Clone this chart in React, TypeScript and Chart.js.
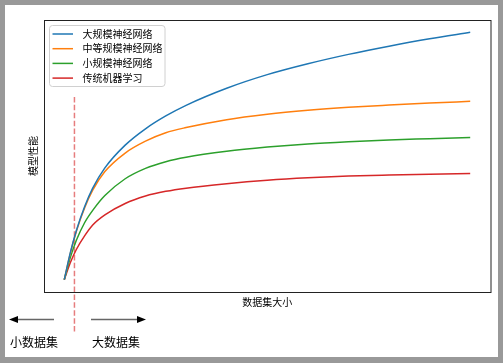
import React, { useEffect, useRef } from 'react';
import { Chart, registerables } from 'chart.js';

Chart.register(...registerables);

// ---- data ----
const xValues = [0, 1.5, 3, 5, 7, 10, 15, 20, 25, 30, 40, 50, 60, 70, 80, 90, 100];
const largeNN = [0, 0.11, 0.2, 0.295, 0.37, 0.452, 0.544, 0.61, 0.662, 0.705, 0.774, 0.829, 0.873, 0.911, 0.944, 0.974, 1.0];
const mediumNN = [0, 0.107, 0.197, 0.29, 0.362, 0.437, 0.512, 0.56, 0.594, 0.615, 0.647, 0.669, 0.685, 0.697, 0.706, 0.714, 0.721];
const smallNN = [0, 0.09, 0.16, 0.23, 0.28, 0.34, 0.408, 0.45, 0.477, 0.495, 0.519, 0.536, 0.549, 0.558, 0.565, 0.57, 0.575];
const traditionalML = [0, 0.069, 0.123, 0.177, 0.221, 0.262, 0.308, 0.338, 0.357, 0.37, 0.388, 0.402, 0.412, 0.419, 0.423, 0.426, 0.429];

const seriesNames = ['大规模神经网络', '中等规模神经网络', '小规模神经网络', '传统机器学习'];
const seriesColors = ['#1f77b4', '#ff7f0e', '#2ca02c', '#d62728'];
const seriesValues = [largeNN, mediumNN, smallNN, traditionalML];

const thresholdX = 2.5;
const thresholdYRange = [-0.21, 0.74];

const xAxisLabel = '数据集大小';
const yAxisLabel = '模型性能';
const leftNote = '小数据集';
const rightNote = '大数据集';

const FONT = '"Noto Sans CJK SC", "Noto Sans", sans-serif';

const decorPlugin = {
  id: 'decor',
  afterDatasetsDraw(chart: any) {
    const ctx = chart.ctx as CanvasRenderingContext2D;
    const a = chart.chartArea;
    ctx.save();

    // axes frame
    ctx.strokeStyle = '#222';
    ctx.lineWidth = 1;
    ctx.strokeRect(a.left + 0.5, a.top + 0.5, a.right - a.left, a.bottom - a.top);

    // axis labels
    ctx.fillStyle = '#000';
    ctx.font = `10px ${FONT}`;
    ctx.textAlign = 'center';
    ctx.textBaseline = 'middle';
    ctx.fillText(xAxisLabel, (a.left + a.right) / 2, a.bottom + 10);
    ctx.save();
    ctx.translate(28, (a.top + a.bottom) / 2);
    ctx.rotate(-Math.PI / 2);
    ctx.fillText(yAxisLabel, 0, 0);
    ctx.restore();

    // legend
    const lx = 44.5, ly = 20.5, lw = 115.5, lh = 61;
    const r = 3;
    ctx.beginPath();
    ctx.moveTo(lx + r, ly);
    ctx.lineTo(lx + lw - r, ly);
    ctx.arcTo(lx + lw, ly, lx + lw, ly + r, r);
    ctx.lineTo(lx + lw, ly + lh - r);
    ctx.arcTo(lx + lw, ly + lh, lx + lw - r, ly + lh, r);
    ctx.lineTo(lx + r, ly + lh);
    ctx.arcTo(lx, ly + lh, lx, ly + lh - r, r);
    ctx.lineTo(lx, ly + r);
    ctx.arcTo(lx, ly, lx + r, ly, r);
    ctx.closePath();
    ctx.fillStyle = 'rgba(255,255,255,0.85)';
    ctx.fill();
    ctx.strokeStyle = '#d0d0d0';
    ctx.lineWidth = 1;
    ctx.stroke();

    ctx.textAlign = 'left';
    ctx.font = `10px ${FONT}`;
    seriesNames.forEach((name, i) => {
      const y = 29 + i * 14.7;
      ctx.strokeStyle = seriesColors[i];
      ctx.lineWidth = 1.5;
      ctx.beginPath();
      ctx.moveTo(47.5, y);
      ctx.lineTo(68, y);
      ctx.stroke();
      ctx.fillStyle = '#000';
      ctx.fillText(name, 77.5, y);
    });

    // bottom arrows
    const ay = 314.5;
    const drawArrow = (x0: number, x1: number) => {
      const dir = Math.sign(x1 - x0);
      const headLen = 9;
      ctx.strokeStyle = '#666';
      ctx.lineWidth = 1.5;
      ctx.beginPath();
      ctx.moveTo(x0, ay);
      ctx.lineTo(x1 - dir * headLen, ay);
      ctx.stroke();
      ctx.fillStyle = '#000';
      ctx.beginPath();
      ctx.moveTo(x1, ay);
      ctx.lineTo(x1 - dir * headLen, ay - 3.5);
      ctx.lineTo(x1 - dir * headLen, ay + 3.5);
      ctx.closePath();
      ctx.fill();
    };
    drawArrow(49, 4);
    drawArrow(86, 141);

    ctx.fillStyle = '#000';
    ctx.font = `12px ${FONT}`;
    ctx.textAlign = 'left';
    ctx.textBaseline = 'middle';
    ctx.fillText(leftNote, 5, 337.5);
    ctx.fillText(rightNote, 87, 337.5);

    ctx.restore();
  },
};

export default function App() {
  const canvasRef = useRef<HTMLCanvasElement | null>(null);

  useEffect(() => {
    document.body.style.margin = '0';
    const canvas = canvasRef.current;
    if (!canvas) return;

    const datasets: any[] = seriesValues.map((vals, i) => ({
      label: seriesNames[i],
      data: xValues.map((x, j) => ({ x, y: vals[j] })),
      borderColor: seriesColors[i],
      backgroundColor: seriesColors[i],
      borderWidth: 1.5,
      pointRadius: 0,
      cubicInterpolationMode: 'monotone',
      fill: false,
    }));
    datasets.push({
      label: 'threshold',
      data: thresholdYRange.map((y) => ({ x: thresholdX, y })),
      borderColor: 'rgba(214,39,40,0.6)',
      borderWidth: 1.5,
      borderDash: [5.5, 2.4],
      pointRadius: 0,
      tension: 0,
      clip: false,
      fill: false,
    });

    const chart = new Chart(canvas, {
      type: 'line',
      data: { datasets },
      options: {
        responsive: false,
        animation: false,
        devicePixelRatio: 1,
        layout: { padding: { left: 39, right: 7.5, top: 15, bottom: 65 } },
        plugins: {
          legend: { display: false },
          tooltip: { enabled: false },
        },
        scales: {
          x: { type: 'linear', min: -5, max: 105, display: false },
          y: { type: 'linear', min: -0.05, max: 1.05, display: false },
        },
      },
      plugins: [decorPlugin],
    });

    return () => chart.destroy();
  }, []);

  return (
    <div style={{ position: 'relative', width: 503, height: 363, background: '#999' }}>
      <canvas
        ref={canvasRef}
        width={493}
        height={352}
        style={{ position: 'absolute', left: 5, top: 5, width: 493, height: 352, background: '#fff' }}
      />
    </div>
  );
}
